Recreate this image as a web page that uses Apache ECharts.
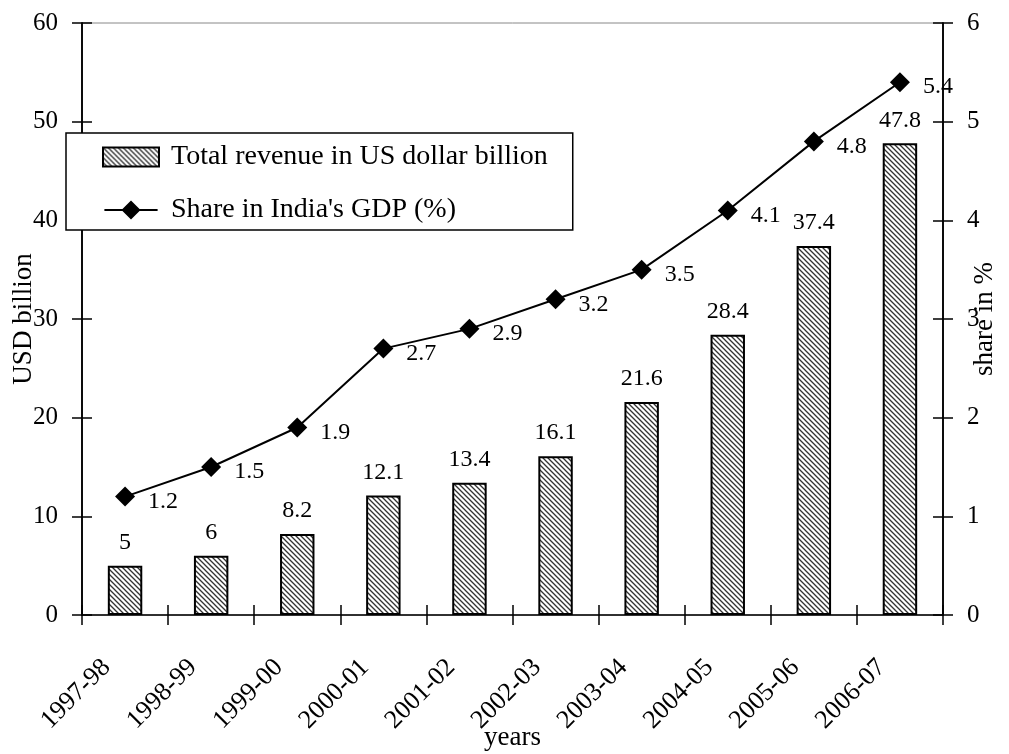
<!DOCTYPE html>
<html><head><meta charset="utf-8">
<script src="https://cdn.jsdelivr.net/npm/echarts@6/dist/echarts.min.js"></script>
<style>html,body{margin:0;padding:0;background:#fff}#c{width:1009px;height:754px}</style>
</head><body><div id="c"></div>
<script>
const categories = ['1997-98','1998-99','1999-00','2000-01','2001-02','2002-03','2003-04','2004-05','2005-06','2006-07'];
const revenue = [5, 6, 8.2, 12.1, 13.4, 16.1, 21.6, 28.4, 37.4, 47.8];
const gdpShare = [1.2, 1.5, 1.9, 2.7, 2.9, 3.2, 3.5, 4.1, 4.8, 5.4];
const leftTicks = [0, 10, 20, 30, 40, 50, 60];
const rightTicks = [0, 1, 2, 3, 4, 5, 6];

const pc = document.createElement('canvas');
pc.width = 5; pc.height = 5;
const g = pc.getContext('2d');
g.fillStyle = '#fff'; g.fillRect(0,0,5,5);
g.strokeStyle = '#333'; g.lineWidth = 1.3;
g.beginPath();
g.moveTo(-1,-1); g.lineTo(6,6);
g.moveTo(-1,4); g.lineTo(1,6);
g.moveTo(4,-1); g.lineTo(6,1);
g.stroke();

const FONT = 'Liberation Serif';
const chart = echarts.init(document.getElementById('c'), null, {renderer:'canvas'});
const yBase = (pos, ticks, inside, showLabel, name, gap) => ({
  type:'value', position: pos, min: ticks[0], max: ticks[ticks.length-1],
  interval: ticks[1]-ticks[0],
  splitLine:{show:false},
  axisLine:{show:true, lineStyle:{color:'#000', width:1.5}},
  axisTick:{show:true, inside: inside, length:10, lineStyle:{color:'#000', width:1.5}},
  axisLabel:{show:showLabel, color:'#000', fontFamily:FONT, fontSize:25, margin:24},
  name: name, nameLocation:'middle', nameRotate:90, nameGap: gap, nameMoveOverlap:false,
  nameTextStyle:{color:'#000', fontFamily:FONT, fontSize:27}
});
chart.setOption({
  animation:false,
  backgroundColor:'#fff',
  grid:{left:82, right:66, top:23, bottom:139, show:true, borderColor:'#888', borderWidth:1,
        containLabel:false, outerBoundsMode:'none'},
  legend:{
    left:66, top:133, orient:'vertical',
    backgroundColor:'#fff', borderColor:'#000', borderWidth:1.5,
    padding:[10, 25, 6, 36], itemGap:25, itemWidth:56, itemHeight:19,
    data:[
      {name:'Total revenue in US dollar billion', icon:'rect'},
      {name:"Share in India's GDP (%)", icon:'path://M0,9L19,9L28,0L37,9L56,9L56,11L37,11L28,20L19,11L0,11Z'}
    ],
    textStyle:{color:'#000', fontFamily:FONT, fontSize:28, padding:[0,0,0,7]}
  },
  xAxis:[{
    type:'category', data:categories,
    axisLine:{lineStyle:{color:'#000', width:1.5}},
    axisTick:{show:true, length:10, lineStyle:{color:'#000', width:1.5}},
    axisLabel:{color:'#000', fontFamily:FONT, fontSize:26, rotate:45, margin:30, padding:[0,26,0,0]},
    name:'years', nameLocation:'middle', nameGap:109, nameMoveOverlap:false,
    nameTextStyle:{color:'#000', fontFamily:FONT, fontSize:27}
  },{
    type:'category', data:categories, position:'bottom',
    axisLine:{show:false},
    axisTick:{show:true, inside:true, length:10, lineStyle:{color:'#000', width:1.5}},
    axisLabel:{show:false}
  }],
  yAxis:[
    yBase('left', leftTicks, false, true, 'USD billion', 45),
    yBase('right', rightTicks, false, true, 'share in %', 28),
    yBase('left', leftTicks, true, false, '', 0),
    yBase('right', rightTicks, true, false, '', 0)
  ],
  series:[{
    name:'Total revenue in US dollar billion', type:'bar', data:revenue,
    xAxisIndex:0, yAxisIndex:0, barWidth:'40%',
    itemStyle:{color:{image:pc, repeat:'repeat'}, borderColor:'#000', borderWidth:2},
    label:{show:true, position:'top', distance:11, color:'#000', fontFamily:FONT, fontSize:24}
  },{
    name:"Share in India's GDP (%)", type:'line', data:gdpShare,
    xAxisIndex:0, yAxisIndex:1,
    symbol:'diamond', symbolSize:20,
    lineStyle:{color:'#000', width:2}, itemStyle:{color:'#000'},
    label:{show:true, position:'right', distance:13, offset:[0,5], color:'#000', fontFamily:FONT, fontSize:24}
  }]
});
</script></body></html>
